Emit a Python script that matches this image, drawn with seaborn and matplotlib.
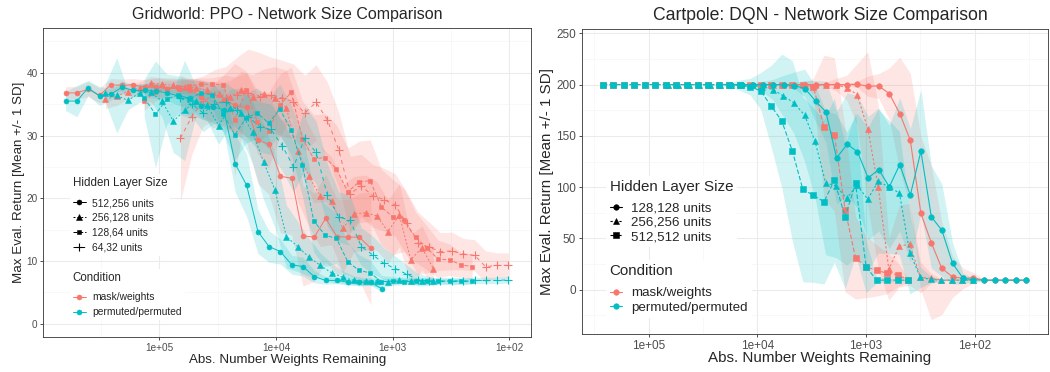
import matplotlib
matplotlib.use("Agg")
import numpy as np
import pandas as pd
import matplotlib.pyplot as plt
import seaborn as sns
from matplotlib.lines import Line2D
from matplotlib.ticker import FixedLocator, FixedFormatter, NullFormatter

# ---------------------------------------------------------------- data
conditions = ["mask/weights", "permuted/permuted"]
x_tick_values = [1e5, 1e4, 1e3, 1e2]
x_tick_labels = ["1e+05", "1e+04", "1e+03", "1e+02"]

# Gridworld: PPO (left)
grid_sizes = ["512,256 units", "256,128 units", "128,64 units", "64,32 units"]
gx_512_256 = [637000, 510000, 408000, 326000, 261000, 209000, 167000, 134000, 107000, 85500,
              68400, 54700, 43800, 35000, 28000, 22400, 17900, 14300, 11500, 9180,
              7340, 5880, 4700, 3760, 3010, 2410, 1930, 1540, 1230]
gx_256_128 = [290000, 232000, 186000, 148000, 119000, 95000, 76000, 60800, 48700, 38900,
              31100, 24900, 19900, 15900, 12800, 10200, 8160, 6530, 5220, 4180,
              3340, 2680, 2140, 1710, 1370, 1100, 877, 701, 561, 449]
gx_128_64 = [135000, 108000, 86400, 69100, 55300, 44200, 35400, 28300, 22600, 18100,
             14500, 11600, 9280, 7420, 5940, 4750, 3800, 3040, 2430, 1950,
             1560, 1250, 996, 797, 638, 510, 408, 326, 261, 209]
gx_64_32 = [66000, 52800, 42200, 33800, 27000, 21600, 17300, 13800, 11100, 8860,
            7090, 5670, 4540, 3630, 2900, 2320, 1860, 1490, 1190, 951,
            761, 609, 487, 390, 312, 249, 199, 160, 128, 102]

g_mask_512_256 = [36.8, 36.8, 37.4, 36.4, 38.1, 38.0, 38.1, 37.7, 37.7, 37.5,
                  37.5, 37.3, 36.2, 34.7, 35.7, 34.8, 34.5, 29.3, 28.6, 23.5,
                  23.2, 14.0, 13.8, 16.8, 13.9, 13.8, 13.8, 12.0]
g_mask_512_256_sd = [1.0, 1.0, 1.2, 1.2, 1.0, 1.0, 1.0, 1.2, 1.5, 1.5,
                     1.5, 1.8, 2.5, 3.5, 4.0, 4.5, 5.5, 7.0, 8.0, 9.0,
                     9.0, 8.0, 7.0, 7.0, 6.0, 6.0, 7.0, 9.0]
g_perm_512_256 = [35.5, 35.5, 37.6, 36.3, 36.6, 37.7, 37.2, 37.2, 37.1, 36.8,
                  36.3, 36.0, 34.7, 34.6, 34.1, 25.5, 22.1, 14.7, 12.3, 11.5,
                  9.4, 9.1, 7.5, 6.9, 6.9, 6.6, 6.6, 6.6, 5.5]
g_perm_512_256_sd = [1.5, 2.5, 1.2, 1.5, 1.0, 1.0, 1.0, 1.0, 1.2, 1.2,
                     1.5, 1.5, 2.0, 2.5, 3.5, 4.5, 5.0, 3.5, 2.5, 2.0,
                     1.5, 1.5, 1.0, 0.6, 0.5, 0.5, 0.5, 0.5, 0.5]

g_mask_256_128 = [35.8, 36.3, 37.0, 37.6, 38.4, 38.2, 38.0, 37.8, 37.6, 37.2,
                  36.6, 36.2, 37.2, 36.2, 36.6, 36.0, 34.4, 27.5, 23.5, 20.3,
                  19.6, 15.2, 17.5, 17.7, 17.2, 14.7, 17.3, 10.2, 12.1, 8.8]
g_mask_256_128_sd = [1.5, 1.5, 1.2, 1.0, 1.0, 1.0, 1.2, 1.2, 1.5, 1.5,
                     2.0, 2.5, 3.0, 3.5, 4.0, 5.0, 6.0, 8.0, 8.0, 8.0,
                     7.0, 7.0, 6.0, 6.0, 5.5, 5.0, 5.0, 4.0, 3.5, 3.0]
g_perm_256_128 = [36.8, 36.4, 35.6, 36.8, 36.9, 35.5, 32.3, 34.0, 35.5, 34.8,
                  31.6, 34.4, 33.6, 30.5, 25.8, 21.3, 13.9, 12.3, 10.6, 9.3,
                  8.1, 7.4, 6.9, 6.8, 6.8, 6.7, 6.9, 6.8, 6.8, 6.8]
g_perm_256_128_sd = [1.5, 6.0, 1.5, 1.5, 1.5, 2.5, 5.0, 8.0, 2.5, 2.5,
                     3.0, 3.0, 4.0, 5.0, 6.0, 6.0, 5.0, 4.0, 3.0, 2.0,
                     1.5, 1.0, 0.7, 0.5, 0.5, 0.5, 0.5, 0.5, 0.5, 0.5]

g_mask_128_64 = [35.5, 37.0, 37.5, 37.8, 37.9, 38.2, 38.2, 38.1, 32.5, 37.3,
                 32.2, 30.8, 34.8, 36.9, 29.5, 26.3, 26.5, 24.7, 21.0, 22.6,
                 22.8, 18.6, 17.0, 16.5, 13.8, 12.1, 10.3, 10.2, 9.4, 9.1]
g_mask_128_64_sd = [1.5, 1.5, 1.2, 1.0, 1.0, 1.0, 1.0, 1.5, 9.0, 3.0,
                    5.0, 6.0, 5.0, 4.0, 6.0, 7.0, 7.0, 7.0, 7.0, 6.5,
                    6.5, 6.0, 6.0, 5.0, 4.0, 3.5, 3.0, 2.5, 2.0, 2.0]
g_perm_128_64 = [36.0, 33.4, 35.8, 36.5, 35.8, 36.8, 36.5, 33.4, 30.1, 32.8,
                 33.6, 32.0, 34.2, 30.9, 25.3, 16.4, 14.1, 13.6, 9.9, 8.5,
                 8.1, 6.7, 6.8, 6.7, 6.8, 6.8, 6.8, 6.8, 6.8, 6.8]
g_perm_128_64_sd = [3.0, 8.5, 4.0, 3.0, 3.0, 2.0, 2.0, 3.0, 4.0, 4.0,
                    4.0, 4.0, 4.0, 4.0, 5.0, 5.0, 5.0, 4.0, 3.0, 2.5,
                    2.0, 1.0, 0.7, 0.5, 0.5, 0.5, 0.5, 0.5, 0.5, 0.5]

g_mask_64_32 = [29.6, 33.0, 35.5, 36.5, 36.0, 36.5, 36.8, 36.2, 36.5, 36.0,
                35.4, 33.6, 35.3, 32.5, 27.7, 20.7, 22.0, 20.4, 19.8, 18.9,
                16.0, 12.8, 12.2, 11.5, 11.6, 11.1, 10.9, 9.1, 9.3, 9.3]
g_mask_64_32_sd = [10.0, 6.0, 4.0, 4.0, 5.0, 6.0, 7.0, 7.0, 6.0, 6.0,
                   6.0, 6.0, 6.0, 6.0, 6.0, 6.0, 5.0, 5.0, 5.0, 5.0,
                   5.0, 5.0, 4.0, 3.0, 3.0, 2.5, 2.5, 2.5, 2.0, 2.0]
g_perm_64_32 = [36.0, 35.0, 33.6, 35.0, 35.4, 34.1, 33.0, 31.4, 31.0, 28.4,
                25.0, 29.6, 27.3, 20.5, 17.0, 16.5, 12.3, 11.0, 9.6, 8.8,
                7.9, 7.0, 6.8, 6.8, 6.8, 6.8, 6.9, 6.9, 6.9, 7.0]
g_perm_64_32_sd = [2.0, 2.0, 3.0, 3.0, 3.0, 3.0, 3.5, 4.0, 4.0, 4.0,
                   4.0, 5.0, 5.0, 5.0, 4.0, 4.0, 3.0, 3.0, 2.5, 2.0,
                   1.5, 1.0, 0.7, 0.5, 0.5, 0.5, 0.5, 0.5, 0.5, 0.5]

# Cartpole: DQN (right)
cart_sizes = ["128,128 units", "256,256 units", "512,512 units"]
cx_128_128 = [17400, 13900, 11100, 8910, 7130, 5700, 4560, 3650, 2920, 2340,
              1870, 1490, 1200, 957, 765, 612, 490, 392, 313, 251,
              201, 160, 128, 103, 82.2, 65.7, 52.6, 42.1, 33.7]
cx_256_256 = [67000, 53600, 42900, 34300, 27400, 22000, 17600, 14100, 11200, 8990,
              7190, 5760, 4600, 3680, 2950, 2360, 1890, 1510, 1210, 966,
              773, 618, 494, 396, 316, 253, 203, 162, 130, 104]
cx_512_512 = [265000, 212000, 170000, 136000, 109000, 86800, 69500, 55600, 44500, 35600,
              28500, 22800, 18200, 14600, 11700, 9320, 7460, 5970, 4770, 3820,
              3060, 2440, 1960, 1560, 1250, 1000, 801, 641, 513, 410]

c_mask_128_128 = [200, 200, 200, 200, 200, 200, 200, 200, 200, 200,
                  200, 200, 200.3, 198.4, 198.7, 191.2, 171.8, 145.8, 74.4, 45.8,
                  20.8, 12.7, 11.1, 11.7, 9.4, 9.4, 9.4, 9.4, 9.4]
c_mask_128_128_sd = [0, 0, 0, 0, 0, 0, 0, 0, 0, 0,
                     0, 1, 3, 10, 12, 25, 55, 65, 75, 75,
                     45, 20, 10, 5, 1, 0, 0, 0, 0]
c_perm_128_128 = [200, 200, 200, 200, 200, 200, 199.0, 196.1, 184.0, 173.3,
                  128.5, 141.9, 134.4, 109.0, 117.2, 100.3, 122.1, 92.2, 135.1, 71.1,
                  58.1, 25.7, 11.1, 9.8, 9.4, 9.4, 9.4, 9.4, 9.4]
c_perm_128_128_sd = [0, 0, 0, 0, 0, 1, 3, 8, 20, 30,
                     45, 50, 55, 60, 60, 60, 65, 65, 60, 50,
                     45, 20, 5, 2, 0.5, 0, 0, 0, 0]

c_mask_256_256 = [200, 200, 200, 200, 200, 200, 200, 200, 200, 200,
                  200, 200, 200, 200, 200, 200, 200, 197.0, 190.3, 157.2,
                  100.3, 19.9, 42.8, 44.2, 12.1, 11.0, 9.6, 9.4, 9.4, 9.4]
c_mask_256_256_sd = [0, 0, 0, 0, 0, 0, 0, 0, 0, 0,
                     0, 0, 0, 0, 0, 2, 6, 12, 30, 75,
                     80, 30, 40, 40, 15, 5, 1, 0, 0, 0]
c_perm_256_256 = [200, 200, 200, 200, 200, 200, 200, 200, 199.5, 198.0,
                  195.1, 188.9, 182.1, 170.1, 144.8, 104.2, 101.3, 89.0, 101.9, 88.3,
                  105.8, 100.3, 94.4, 36.0, 12.1, 10.1, 9.4, 9.4, 9.4, 9.4]
c_perm_256_256_sd = [0, 0, 0, 0, 0, 0, 0, 1, 2, 5,
                     10, 20, 30, 45, 55, 70, 70, 65, 70, 70,
                     70, 65, 60, 40, 10, 3, 1, 0, 0, 0]

c_mask_512_512 = [200, 200, 200, 200, 200, 200, 200, 200, 200, 200,
                  200, 200, 200, 200, 200, 200, 200, 200, 200, 200,
                  198.0, 158.7, 151.3, 78.0, 31.0, 22.4, 18.8, 16.3, 14.8, 9.4]
c_mask_512_512_sd = [0, 0, 0, 0, 0, 0, 0, 0, 0, 0,
                     0, 0, 0, 0, 0, 0, 0, 0, 0, 1,
                     8, 70, 75, 80, 40, 30, 25, 20, 12, 2]
c_perm_512_512 = [200, 200, 200, 200, 200, 200, 200, 200, 200, 200,
                  200, 200, 200, 199.5, 198.0, 193.8, 178.9, 164.6, 135.3, 97.8,
                  92.2, 85.7, 106.8, 71.1, 103.6, 22.4, 9.4, 9.4, 9.4, 9.4]
c_perm_512_512_sd = [0, 0, 0, 0, 0, 0, 0, 0, 0, 0,
                     0, 1, 2, 5, 8, 18, 40, 65, 88, 90,
                     85, 80, 80, 70, 70, 25, 3, 2, 1, 0.5]

# ---------------------------------------------------------------- tables
grid_series = [
    (grid_sizes[0], conditions[0], gx_512_256, g_mask_512_256, g_mask_512_256_sd),
    (grid_sizes[0], conditions[1], gx_512_256, g_perm_512_256, g_perm_512_256_sd),
    (grid_sizes[1], conditions[0], gx_256_128, g_mask_256_128, g_mask_256_128_sd),
    (grid_sizes[1], conditions[1], gx_256_128, g_perm_256_128, g_perm_256_128_sd),
    (grid_sizes[2], conditions[0], gx_128_64, g_mask_128_64, g_mask_128_64_sd),
    (grid_sizes[2], conditions[1], gx_128_64, g_perm_128_64, g_perm_128_64_sd),
    (grid_sizes[3], conditions[0], gx_64_32, g_mask_64_32, g_mask_64_32_sd),
    (grid_sizes[3], conditions[1], gx_64_32, g_perm_64_32, g_perm_64_32_sd),
]
cart_series = [
    (cart_sizes[0], conditions[0], cx_128_128, c_mask_128_128, c_mask_128_128_sd),
    (cart_sizes[0], conditions[1], cx_128_128, c_perm_128_128, c_perm_128_128_sd),
    (cart_sizes[1], conditions[0], cx_256_256, c_mask_256_256, c_mask_256_256_sd),
    (cart_sizes[1], conditions[1], cx_256_256, c_perm_256_256, c_perm_256_256_sd),
    (cart_sizes[2], conditions[0], cx_512_512, c_mask_512_512, c_mask_512_512_sd),
    (cart_sizes[2], conditions[1], cx_512_512, c_perm_512_512, c_perm_512_512_sd),
]


def long_frame(series):
    rows = []
    for size, cond, xs, ys, sds in series:
        for xv, yv, sv in zip(xs[:len(ys)], ys, sds):
            rows.append((size, cond, xv, yv, yv - sv, yv + sv))
    return pd.DataFrame(rows, columns=["size", "condition", "weights", "ret", "lo", "hi"])


grid_df = long_frame(grid_series)
cart_df = long_frame(cart_series)

# ---------------------------------------------------------------- style
sns.set_theme(style="white")
plt.rcParams["font.family"] = ["Liberation Sans", "DejaVu Sans"]

RED = "#F8766D"
CYAN = "#00BFC4"
cond_colors = {conditions[0]: RED, conditions[1]: CYAN}

W, H = 1050, 372
fig = plt.figure(figsize=(W / 100, H / 100), dpi=100)


def px_axes(left, top, right, bottom):
    return fig.add_axes([left / W, 1 - bottom / H, (right - left) / W, (bottom - top) / H])


axL = px_axes(43.3, 27.7, 531.0, 337.3)
axR = px_axes(581.5, 29.3, 1048.0, 334.0)

grid_markers = dict(zip(grid_sizes, ["o", "^", "s", "+"]))
grid_dashes = dict(zip(grid_sizes, ["-", (0, (2, 2)), (0, (4, 2)), (0, (4, 4))]))
grid_ms = dict(zip(grid_sizes, [3.6, 4.2, 3.4, 5.5]))
grid_mew = dict(zip(grid_sizes, [0.4, 0.4, 0.4, 0.8]))

cart_markers = dict(zip(cart_sizes, ["o", "^", "s"]))
cart_dashes = dict(zip(cart_sizes, ["-", (0, (2, 2)), (0, (4, 2))]))
cart_ms = dict(zip(cart_sizes, [4.0, 4.6, 3.8]))
cart_mew = dict(zip(cart_sizes, [0.4, 0.4, 0.4]))


def draw(ax, df, sizes, markers, dashes, ms, mew, lw, alpha):
    ax.set_xscale("log")
    for size in sizes:
        for cond in conditions:
            d = df[(df["size"] == size) & (df["condition"] == cond)]
            ax.fill_between(d["weights"].to_numpy(), d["lo"].to_numpy(), d["hi"].to_numpy(),
                            color=cond_colors[cond], alpha=alpha, linewidth=0, zorder=1)
    for cond in conditions:
        for size in sizes:
            d = df[(df["size"] == size) & (df["condition"] == cond)]
            c = cond_colors[cond]
            sns.lineplot(data=d, x="weights", y="ret", ax=ax, color=c,
                         marker=markers[size], markersize=ms[size],
                         markeredgecolor=c, markeredgewidth=mew[size],
                         linewidth=lw, linestyle=dashes[size],
                         errorbar=None, sort=False, legend=False, zorder=3)


def style_axes(ax, xlim, ylim, yticks, yminor, xminor, tick_fs):
    ax.set_xlim(*xlim)
    ax.set_ylim(*ylim)
    ax.xaxis.set_major_locator(FixedLocator(x_tick_values))
    ax.xaxis.set_major_formatter(FixedFormatter(x_tick_labels))
    ax.xaxis.set_minor_locator(FixedLocator(xminor))
    ax.xaxis.set_minor_formatter(NullFormatter())
    ax.yaxis.set_major_locator(FixedLocator(yticks))
    ax.yaxis.set_minor_locator(FixedLocator(yminor))
    ax.grid(True, which="major", color="#EBEBEB", linewidth=0.75)
    ax.grid(True, which="minor", color="#F4F4F4", linewidth=0.45)
    ax.set_axisbelow(True)
    ax.tick_params(which="major", direction="out", length=2.5, width=0.6,
                   color="#333333", labelcolor="#4D4D4D", labelsize=tick_fs, pad=1.5,
                   bottom=True, left=True)
    ax.tick_params(which="minor", length=0)
    for sp in ax.spines.values():
        sp.set_visible(True)
        sp.set_color("#333333")
        sp.set_linewidth(0.6)


def add_legends(ax, sizes, markers, dashes, ms, mew, lw, fs_title, fs_text,
                anchor1, anchor2, hl, htp, lsp, sep1, sep2):
    h1 = [Line2D([], [], color="black", marker=markers[s], markersize=ms[s],
                 markeredgewidth=mew[s], linestyle=dashes[s], linewidth=lw) for s in sizes]
    common = dict(loc="upper left", bbox_transform=fig.transFigure, borderaxespad=0,
                  fontsize=fs_text, title_fontsize=fs_title, frameon=True, framealpha=1,
                  facecolor="white", edgecolor="none", fancybox=False, borderpad=0.3,
                  handlelength=hl, handletextpad=htp, labelspacing=lsp, alignment="left")
    leg1 = ax.legend(h1, sizes, title="Hidden Layer Size", bbox_to_anchor=anchor1, **common)
    try:
        leg1._legend_box.sep = sep1 * 0.72
    except Exception:
        pass
    ax.add_artist(leg1)
    h2 = [Line2D([], [], color=cond_colors[c], marker="o", markersize=ms[sizes[0]],
                 markeredgewidth=0.4, markeredgecolor=cond_colors[c], linewidth=lw) for c in conditions]
    leg2 = ax.legend(h2, conditions, title="Condition", bbox_to_anchor=anchor2, **common)
    try:
        leg2._legend_box.sep = sep2 * 0.72
    except Exception:
        pass


# ---------------------------------------------------------------- left panel
draw(axL, grid_df, grid_sizes, grid_markers, grid_dashes, grid_ms, grid_mew, 0.7, 0.18)
style_axes(axL, (10 ** 5.995, 10 ** 1.815), (-2.17, 47.2),
           [0, 10, 20, 30, 40], [5, 15, 25, 35, 45],
           [316228, 31623, 3162.3, 316.23], 7.2)
axL.set_title("Gridworld: PPO - Network Size Comparison", fontsize=11.5,
              x=0.5, y=(337.3 - 14) / 309.6, va="center", pad=0)
axL.set_xlabel("Abs. Number Weights Remaining", fontsize=9.6)
axL.xaxis.set_label_coords(0.5, (337.3 - 360) / 309.6)
axL.xaxis.label.set_va("center")
axL.set_ylabel("Max Eval. Return [Mean +/- 1 SD]", fontsize=9.6)
axL.yaxis.set_label_coords((18.6 - 43.3) / 487.7, 0.5)
axL.yaxis.label.set_va("center")
axL.yaxis.label.set_ha("center")
add_legends(axL, grid_sizes, grid_markers, grid_dashes, grid_ms, grid_mew, 0.7,
            8.3, 7.4, (69.6 / W, 1 - 174.2 / H), (69.6 / W, 1 - 268.8 / H),
            1.31, 0.6, 0.48, 8.75, 8.45)

# ---------------------------------------------------------------- right panel
draw(axR, cart_df, cart_sizes, cart_markers, cart_dashes, cart_ms, cart_mew, 0.8, 0.18)
style_axes(axR, (10 ** 5.619, 10 ** 1.326), (-43.1, 253.9),
           [0, 50, 100, 150, 200, 250], [-25, 25, 75, 125, 175, 225],
           [316228, 31623, 3162.3, 316.23, 31.623], 8.5)
axR.set_title("Cartpole: DQN - Network Size Comparison", fontsize=12.7,
              x=(820 - 581.5) / 466.5, y=(334 - 15) / 304.7, va="center", pad=0)
axR.set_xlabel("Abs. Number Weights Remaining", fontsize=10.9)
axR.xaxis.set_label_coords((820 - 581.5) / 466.5, (334 - 358.3) / 304.7)
axR.xaxis.label.set_va("center")
axR.set_ylabel("Max Eval. Return [Mean +/- 1 SD]", fontsize=10.9)
axR.yaxis.set_label_coords((547 - 581.5) / 466.5, 0.5)
axR.yaxis.label.set_va("center")
axR.yaxis.label.set_ha("center")
add_legends(axR, cart_sizes, cart_markers, cart_dashes, cart_ms, cart_mew, 0.8,
            10.9, 9.6, (605.6 / W, 1 - 175.6 / H), (605.6 / W, 1 - 259.6 / H),
            0.93, 0.69, 0.16, 8.25, 9.25)

fig.savefig("out.png", dpi=100)
